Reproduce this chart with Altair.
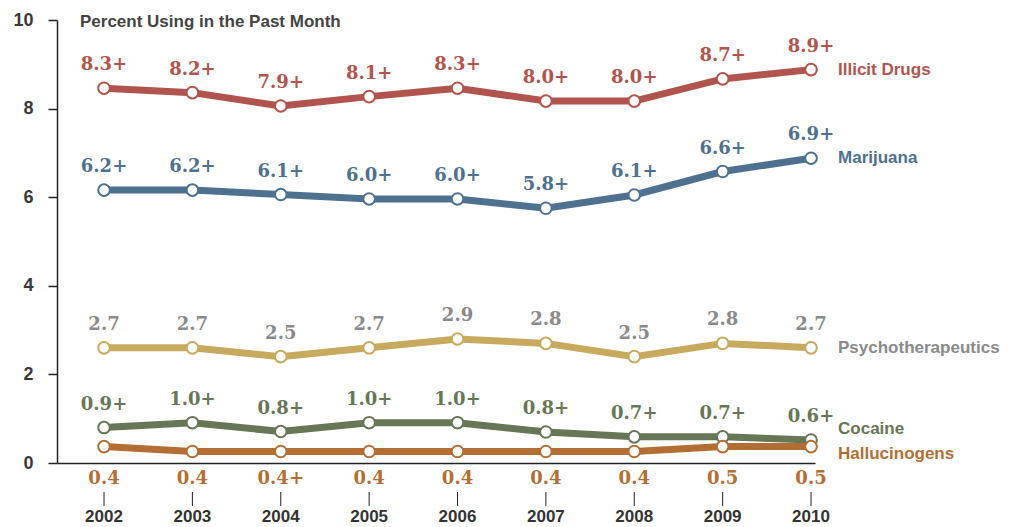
import altair as alt
import pandas as pd

years = [2002, 2003, 2004, 2005, 2006, 2007, 2008, 2009, 2010]
series_names = ["Illicit Drugs", "Marijuana", "Psychotherapeutics", "Cocaine", "Hallucinogens"]

illicit = [8.46, 8.36, 8.06, 8.27, 8.46, 8.17, 8.17, 8.67, 8.88]
marijuana = [6.16, 6.16, 6.06, 5.96, 5.96, 5.75, 6.05, 6.58, 6.88]
psycho = [2.60, 2.60, 2.40, 2.60, 2.80, 2.70, 2.40, 2.70, 2.60]
cocaine = [0.80, 0.91, 0.71, 0.91, 0.91, 0.70, 0.59, 0.59, 0.52]
halluc = [0.37, 0.26, 0.26, 0.26, 0.26, 0.26, 0.26, 0.37, 0.37]

illicit_lbl = ["8.3+", "8.2+", "7.9+", "8.1+", "8.3+", "8.0+", "8.0+", "8.7+", "8.9+"]
marijuana_lbl = ["6.2+", "6.2+", "6.1+", "6.0+", "6.0+", "5.8+", "6.1+", "6.6+", "6.9+"]
psycho_lbl = ["2.7", "2.7", "2.5", "2.7", "2.9", "2.8", "2.5", "2.8", "2.7"]
cocaine_lbl = ["0.9+", "1.0+", "0.8+", "1.0+", "1.0+", "0.8+", "0.7+", "0.7+", "0.6+"]
halluc_lbl = ["0.4", "0.4", "0.4+", "0.4", "0.4", "0.4", "0.4", "0.5", "0.5"]

title_text = "Percent Using in the Past Month"
y_ticks = [0, 2, 4, 6, 8, 10]

line_colors = ["#b2544e", "#4e718f", "#c8aa5f", "#677656", "#b46e34"]
label_colors = ["#b2544e", "#4e718f", "#8a8a8a", "#677656", "#b46e34"]
name_dy = [0, 0, 0, -11, 7]

SANS = "Liberation Sans"
SERIF = "DejaVu Serif"

all_vals = [illicit, marijuana, psycho, cocaine, halluc]
all_lbls = [illicit_lbl, marijuana_lbl, psycho_lbl, cocaine_lbl, halluc_lbl]

x_enc = alt.X(
    "year:Q",
    scale=alt.Scale(domain=[2001.468, 2010.045], nice=False, zero=False),
    axis=alt.Axis(title=None, labels=False, ticks=False, grid=False,
                  domainColor="#222222", domainWidth=1.5),
)
y_enc = alt.Y(
    "value:Q",
    scale=alt.Scale(domain=[0, 10], nice=False, zero=True),
    axis=alt.Axis(title=None, values=y_ticks, grid=False, tickSize=9, tickWidth=1.5,
                  tickColor="#222222", domainColor="#222222", domainWidth=1.5,
                  labelPadding=15, labelFont=SANS, labelFontWeight="bold",
                  labelFontSize=18, labelColor="#3a3a3a"),
)

layers = []
for i, (name, vals, lbls) in enumerate(zip(series_names, all_vals, all_lbls)):
    df = pd.DataFrame({"year": years, "value": vals, "label": lbls, "series": name})
    base = alt.Chart(df)
    layers.append(base.mark_line(color=line_colors[i], strokeWidth=7).encode(x=x_enc, y=y_enc))
    layers.append(base.mark_circle(fill="white", stroke=line_colors[i], strokeWidth=2,
                                   size=135, opacity=1).encode(x=x_enc, y=y_enc))
    if name == "Hallucinogens":
        layers.append(base.mark_text(font=SERIF, fontWeight="bold", fontSize=18,
                                     color=label_colors[i], baseline="middle").encode(
            x=x_enc, y=alt.value(459), text="label:N"))
    else:
        layers.append(base.mark_text(font=SERIF, fontWeight="bold", fontSize=18, dy=-23,
                                     color=label_colors[i], baseline="middle").encode(
            x=x_enc, y=y_enc, text="label:N"))
    last = df[df["year"] == years[-1]]
    layers.append(alt.Chart(last).mark_text(font=SANS, fontWeight="bold", fontSize=17,
                                            align="left", baseline="middle", dx=27,
                                            dy=name_dy[i], color=label_colors[i]).encode(
        x=x_enc, y=y_enc, text="series:N"))

yr_df = pd.DataFrame({"year": years, "ylab": [str(y) for y in years]})
layers.append(alt.Chart(yr_df).mark_rule(color="#222222", strokeWidth=1).encode(
    x=x_enc, y=alt.value(472), y2=alt.value(486)))
layers.append(alt.Chart(yr_df).mark_text(font=SANS, fontWeight="bold", fontSize=17,
                                         color="#333333", baseline="alphabetic").encode(
    x=x_enc, y=alt.value(502), text="ylab:N"))

title_df = pd.DataFrame({"t": [title_text]})
layers.append(alt.Chart(title_df).mark_text(font=SANS, fontWeight="bold", fontSize=17,
                                            color="#444444", align="left",
                                            baseline="middle").encode(
    x=alt.value(23), y=alt.value(2), text="t:N"))

chart = alt.layer(*layers).properties(
    width=758, height=443,
    background="white",
    autosize=alt.AutoSizeParams(type="none"),
    padding={"left": 49, "top": 12, "right": 192, "bottom": 64},
).configure_view(stroke="transparent", strokeWidth=0)

chart.save("out.html", embed_options={"renderer": "svg", "actions": False})
